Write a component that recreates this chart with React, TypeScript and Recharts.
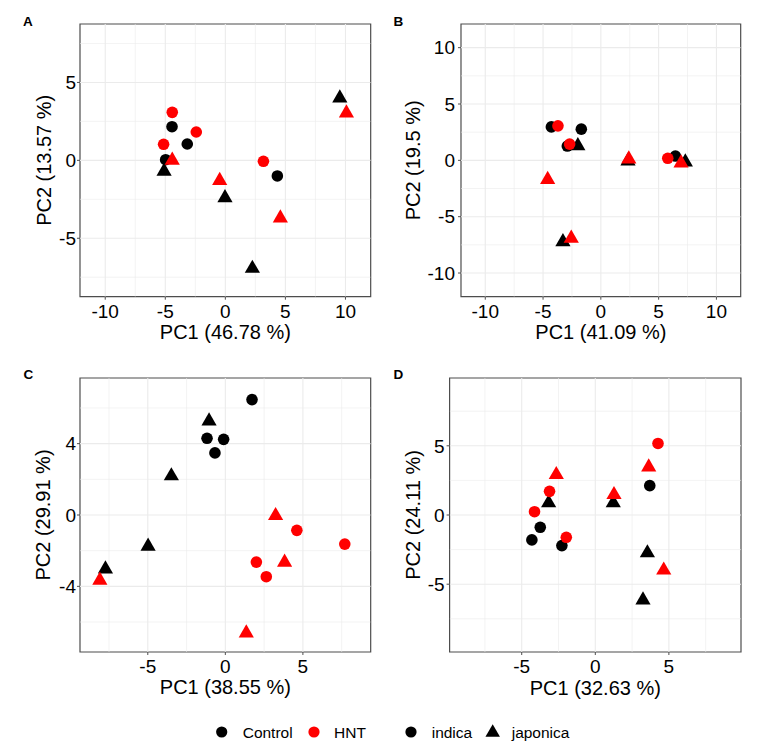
import React from 'react';
import { ScatterChart, Scatter, XAxis, YAxis, ReferenceLine, ReferenceArea, Label } from 'recharts';

type Pt = { x: number; y: number };

const FONT = '"Liberation Sans", Arial, Helvetica, sans-serif';
const RED = '#FF0000';
const BLACK = '#000000';
const GRID = '#EBEBEB';
const BORDER = '#4D4D4D';

// ---- legend / labels ----
const treatments = ['Control', 'HNT'];
const subspecies = ['indica', 'japonica'];
const panelLetters = ['A', 'B', 'C', 'D'];
const pc1Titles = ['PC1 (46.78 %)', 'PC1 (41.09 %)', 'PC1 (38.55 %)', 'PC1 (32.63 %)'];
const pc2Titles = ['PC2 (13.57 %)', 'PC2 (19.5 %)', 'PC2 (29.91 %)', 'PC2 (24.11 %)'];

// ---- Panel A ----
const aControlIndica: Pt[] = [
  { x: -4.44, y: 2.16 }, { x: -3.17, y: 1.05 }, { x: -4.97, y: 0.04 }, { x: 4.33, y: -1.0 },
];
const aControlJaponica: Pt[] = [
  { x: -5.1, y: -0.7 }, { x: -0.03, y: -2.41 }, { x: 2.25, y: -6.94 }, { x: 9.53, y: 4.0 },
];
const aHntIndica: Pt[] = [
  { x: -4.42, y: 3.08 }, { x: -2.42, y: 1.82 }, { x: -5.14, y: 1.03 }, { x: 3.17, y: -0.06 },
];
const aHntJaponica: Pt[] = [
  { x: -4.42, y: 0.0 }, { x: -0.47, y: -1.3 }, { x: 4.58, y: -3.7 }, { x: 10.08, y: 3.03 },
];
const aXTicks = [-10, -5, 0, 5, 10];
const aYTicks = [-5, 0, 5];
const aXMinor = [-7.5, -2.5, 2.5, 7.5];
const aYMinor = [-7.5, -2.5, 2.5, 7.5];
const aXDomain = [-12.1, 12.1];
const aYDomain = [-8.75, 8.75];

// ---- Panel B ----
const bControlIndica: Pt[] = [
  { x: -4.28, y: 2.97 }, { x: -1.69, y: 2.77 }, { x: -2.9, y: 1.27 }, { x: 6.45, y: 0.38 },
];
const bControlJaponica: Pt[] = [
  { x: -1.99, y: 1.29 }, { x: -3.28, y: -7.23 }, { x: 2.35, y: -0.06 }, { x: 7.31, y: -0.15 },
];
const bHntIndica: Pt[] = [
  { x: -3.71, y: 3.06 }, { x: -2.7, y: 1.44 }, { x: 5.79, y: 0.18 },
];
const bHntJaponica: Pt[] = [
  { x: -4.6, y: -1.71 }, { x: -2.56, y: -6.92 }, { x: 2.42, y: 0.12 }, { x: 6.94, y: -0.24 },
];
const bXTicks = [-10, -5, 0, 5, 10];
const bYTicks = [-10, -5, 0, 5, 10];
const bXMinor = [-7.5, -2.5, 2.5, 7.5];
const bYMinor = [-7.5, -2.5, 2.5, 7.5];
const bXDomain = [-12.1, 12.1];
const bYDomain = [-12.1, 12.1];

// ---- Panel C ----
const cControlIndica: Pt[] = [
  { x: 1.72, y: 6.47 }, { x: -1.18, y: 4.3 }, { x: -0.11, y: 4.24 }, { x: -0.67, y: 3.48 },
];
const cControlJaponica: Pt[] = [
  { x: -1.05, y: 5.27 }, { x: -3.48, y: 2.19 }, { x: -4.98, y: -1.76 }, { x: -7.73, y: -3.03 },
];
const cHntIndica: Pt[] = [
  { x: 4.61, y: -0.86 }, { x: 7.7, y: -1.63 }, { x: 2.0, y: -2.64 }, { x: 2.64, y: -3.46 },
];
const cHntJaponica: Pt[] = [
  { x: 3.24, y: -0.04 }, { x: 3.82, y: -2.65 }, { x: -8.09, y: -3.66 }, { x: 1.35, y: -6.62 },
];
const cXTicks = [-5, 0, 5];
const cYTicks = [-4, 0, 4];
const cXMinor = [-7.5, -2.5, 2.5, 7.5];
const cYMinor = [-6, -2, 2, 6];
const cXDomain = [-9.37, 9.37];
const cYDomain = [-7.68, 7.68];

// ---- Panel D ----
const dControlIndica: Pt[] = [
  { x: 3.7, y: 2.12 }, { x: -3.74, y: -0.89 }, { x: -4.31, y: -1.8 }, { x: -2.27, y: -2.21 },
];
const dControlJaponica: Pt[] = [
  { x: -3.17, y: 0.87 }, { x: 1.22, y: 0.87 }, { x: 3.54, y: -2.74 }, { x: 3.24, y: -6.15 },
];
const dHntIndica: Pt[] = [
  { x: 4.26, y: 5.17 }, { x: -3.11, y: 1.71 }, { x: -4.13, y: 0.24 }, { x: -1.97, y: -1.61 },
];
const dHntJaponica: Pt[] = [
  { x: -2.65, y: 2.91 }, { x: 1.27, y: 1.47 }, { x: 3.63, y: 3.46 }, { x: 4.65, y: -3.99 },
];
const dXTicks = [-5, 0, 5];
const dYTicks = [-5, 0, 5];
const dXMinor = [-7.5, -2.5, 2.5, 7.5];
const dYMinor = [-7.5, -2.5, 2.5, 7.5];
const dXDomain = [-9.9, 9.9];
const dYDomain = [-9.9, 9.9];

// ---- shapes ----
const CIRCLE_R = 5.8;
const TRI_SIDE = 15.2;

function circleShape(fill: string) {
  return (p: any) => {
    if (p == null || p.cx == null || p.cy == null) return <g />;
    return <circle cx={p.cx} cy={p.cy} r={CIRCLE_R} fill={fill} />;
  };
}
function triPath(cx: number, cy: number, s: number) {
  const h = (s * Math.sqrt(3)) / 2;
  return `M${cx},${cy - (2 * h) / 3} L${cx + s / 2},${cy + h / 3} L${cx - s / 2},${cy + h / 3} Z`;
}
function triangleShape(fill: string) {
  return (p: any) => {
    if (p == null || p.cx == null || p.cy == null) return <g />;
    return <path d={triPath(p.cx, p.cy, TRI_SIDE)} fill={fill} />;
  };
}

interface Layout {
  plotLeft: number;
  plotTop: number;
  plotRight: number;
  plotBottom: number;
  yTitleX: number;
  yTickMargin: number;
}

interface PanelCfg {
  xTitle: string;
  yTitle: string;
  xDomain: number[];
  yDomain: number[];
  xTicks: number[];
  yTicks: number[];
  xMinor: number[];
  yMinor: number[];
  ctrlIndica: Pt[];
  ctrlJaponica: Pt[];
  hntIndica: Pt[];
  hntJaponica: Pt[];
  layout: Layout;
}

const panels: PanelCfg[] = [
  {
    xTitle: pc1Titles[0], yTitle: pc2Titles[0], xDomain: aXDomain, yDomain: aYDomain,
    xTicks: aXTicks, yTicks: aYTicks, xMinor: aXMinor, yMinor: aYMinor,
    ctrlIndica: aControlIndica, ctrlJaponica: aControlJaponica, hntIndica: aHntIndica, hntJaponica: aHntJaponica,
    layout: { plotLeft: 80, plotTop: 24, plotRight: 370.7, plotBottom: 296.7, yTitleX: 43.5, yTickMargin: 1 },
  },
  {
    xTitle: pc1Titles[1], yTitle: pc2Titles[1], xDomain: bXDomain, yDomain: bYDomain,
    xTicks: bXTicks, yTicks: bYTicks, xMinor: bXMinor, yMinor: bYMinor,
    ctrlIndica: bControlIndica, ctrlJaponica: bControlJaponica, hntIndica: bHntIndica, hntJaponica: bHntJaponica,
    layout: { plotLeft: 461, plotTop: 24, plotRight: 740.7, plotBottom: 296.7, yTitleX: 413, yTickMargin: 3 },
  },
  {
    xTitle: pc1Titles[2], yTitle: pc2Titles[2], xDomain: cXDomain, yDomain: cYDomain,
    xTicks: cXTicks, yTicks: cYTicks, xMinor: cXMinor, yMinor: cYMinor,
    ctrlIndica: cControlIndica, ctrlJaponica: cControlJaponica, hntIndica: cHntIndica, hntJaponica: cHntJaponica,
    layout: { plotLeft: 80, plotTop: 377.7, plotRight: 370.7, plotBottom: 651.7, yTitleX: 43, yTickMargin: 1 },
  },
  {
    xTitle: pc1Titles[3], yTitle: pc2Titles[3], xDomain: dXDomain, yDomain: dYDomain,
    xTicks: dXTicks, yTicks: dYTicks, xMinor: dXMinor, yMinor: dYMinor,
    ctrlIndica: dControlIndica, ctrlJaponica: dControlJaponica, hntIndica: dHntIndica, hntJaponica: dHntJaponica,
    layout: { plotLeft: 449.3, plotTop: 377.7, plotRight: 740.7, plotBottom: 651.7, yTitleX: 413, yTickMargin: 2 },
  },
];

const TICK_FONT = 19;
const TITLE_FONT = 20;
const X_AXIS_H = 48;

function Panel({ cfg }: { cfg: PanelCfg }) {
  const L = cfg.layout;
  const yAxisW = 2 * (L.plotLeft - L.yTitleX);
  const mLeft = 2, mTop = 10, mRight = 6, mBottom = 2;
  const chartLeft = L.plotLeft - yAxisW - mLeft;
  const chartTop = L.plotTop - mTop;
  const width = L.plotRight + mRight - chartLeft;
  const height = L.plotBottom + X_AXIS_H + mBottom - chartTop;
  const tickStyle = { fill: '#000', fontSize: TICK_FONT, fontFamily: FONT };

  return (
    <div style={{ position: 'absolute', left: chartLeft, top: chartTop, width, height }}>
      <ScatterChart
        width={width}
        height={height}
        margin={{ top: mTop, right: mRight, bottom: mBottom, left: mLeft }}
      >
        <XAxis
          type="number"
          dataKey="x"
          domain={cfg.xDomain}
          ticks={cfg.xTicks}
          allowDataOverflow
          axisLine={false}
          tickLine={{ stroke: BORDER, strokeWidth: 1 }}
          tickSize={3}
          tickMargin={5}
          tick={tickStyle}
          height={X_AXIS_H}
          interval={0}
        >
          <Label
            value={cfg.xTitle}
            position="insideBottom"
            offset={5.5}
            fill="#000"
            fontSize={TITLE_FONT}
            fontFamily={FONT}
          />
        </XAxis>
        <YAxis
          type="number"
          dataKey="y"
          domain={cfg.yDomain}
          ticks={cfg.yTicks}
          allowDataOverflow
          axisLine={false}
          tickLine={{ stroke: BORDER, strokeWidth: 1 }}
          tickSize={3}
          tickMargin={L.yTickMargin}
          tick={tickStyle}
          width={yAxisW}
          interval={0}
        >
          <Label
            value={cfg.yTitle}
            position="center"
            angle={-90}
            fill="#000"
            fontSize={TITLE_FONT}
            fontFamily={FONT}
          />
        </YAxis>
        {cfg.xMinor.map((v) => (
          <ReferenceLine key={'xm' + v} x={v} stroke={GRID} strokeWidth={0.6} ifOverflow="hidden" />
        ))}
        {cfg.yMinor.map((v) => (
          <ReferenceLine key={'ym' + v} y={v} stroke={GRID} strokeWidth={0.6} ifOverflow="hidden" />
        ))}
        {cfg.xTicks.map((v) => (
          <ReferenceLine key={'xM' + v} x={v} stroke={GRID} strokeWidth={1.1} ifOverflow="hidden" />
        ))}
        {cfg.yTicks.map((v) => (
          <ReferenceLine key={'yM' + v} y={v} stroke={GRID} strokeWidth={1.1} ifOverflow="hidden" />
        ))}
        <ReferenceArea
          x1={cfg.xDomain[0]}
          x2={cfg.xDomain[1]}
          y1={cfg.yDomain[0]}
          y2={cfg.yDomain[1]}
          fill="none"
          fillOpacity={0}
          stroke={BORDER}
          strokeWidth={1.2}
          ifOverflow="visible"
        />
        <Scatter name={treatments[0] + ' ' + subspecies[0]} data={cfg.ctrlIndica} shape={circleShape(BLACK)} isAnimationActive={false} />
        <Scatter name={treatments[0] + ' ' + subspecies[1]} data={cfg.ctrlJaponica} shape={triangleShape(BLACK)} isAnimationActive={false} />
        <Scatter name={treatments[1] + ' ' + subspecies[0]} data={cfg.hntIndica} shape={circleShape(RED)} isAnimationActive={false} />
        <Scatter name={treatments[1] + ' ' + subspecies[1]} data={cfg.hntJaponica} shape={triangleShape(RED)} isAnimationActive={false} />
      </ScatterChart>
    </div>
  );
}

const letterPos = [
  { x: 23, y: 25.5 },
  { x: 393.5, y: 25.5 },
  { x: 23.5, y: 378.5 },
  { x: 393.5, y: 378.5 },
];

export default function App() {
  const legendY = 732;
  const legendFont = 15.5;
  const baseline = legendY + legendFont * 0.36;
  return (
    <div
      style={{
        position: 'absolute',
        left: 0,
        top: 0,
        width: 757,
        height: 751,
        background: '#fff',
        overflow: 'hidden',
        fontFamily: FONT,
      }}
    >
      {panels.map((p, i) => (
        <Panel key={i} cfg={p} />
      ))}
      <svg
        width={757}
        height={751}
        style={{ position: 'absolute', left: 0, top: 0, pointerEvents: 'none' }}
      >
        {panelLetters.map((l, i) => (
          <text
            key={l}
            x={letterPos[i].x}
            y={letterPos[i].y}
            fontFamily={FONT}
            fontWeight="bold"
            fontSize={13.5}
            fill="#000"
          >
            {l}
          </text>
        ))}
        <g>
          <circle cx={221.7} cy={legendY} r={5.6} fill={BLACK} />
          <text x={242.7} y={baseline} fontFamily={FONT} fontSize={legendFont} fill="#000">
            {treatments[0]}
          </text>
          <circle cx={314} cy={legendY} r={5.6} fill={RED} />
          <text x={334} y={baseline} fontFamily={FONT} fontSize={legendFont} fill="#000">
            {treatments[1]}
          </text>
          <circle cx={411} cy={legendY} r={5.6} fill={BLACK} />
          <text x={431.7} y={baseline} fontFamily={FONT} fontSize={legendFont} fill="#000">
            {subspecies[0]}
          </text>
          <path d={triPath(492.7, legendY + 0.5, 14.5)} fill={BLACK} />
          <text x={511.7} y={baseline} fontFamily={FONT} fontSize={legendFont} fill="#000">
            {subspecies[1]}
          </text>
        </g>
      </svg>
    </div>
  );
}
